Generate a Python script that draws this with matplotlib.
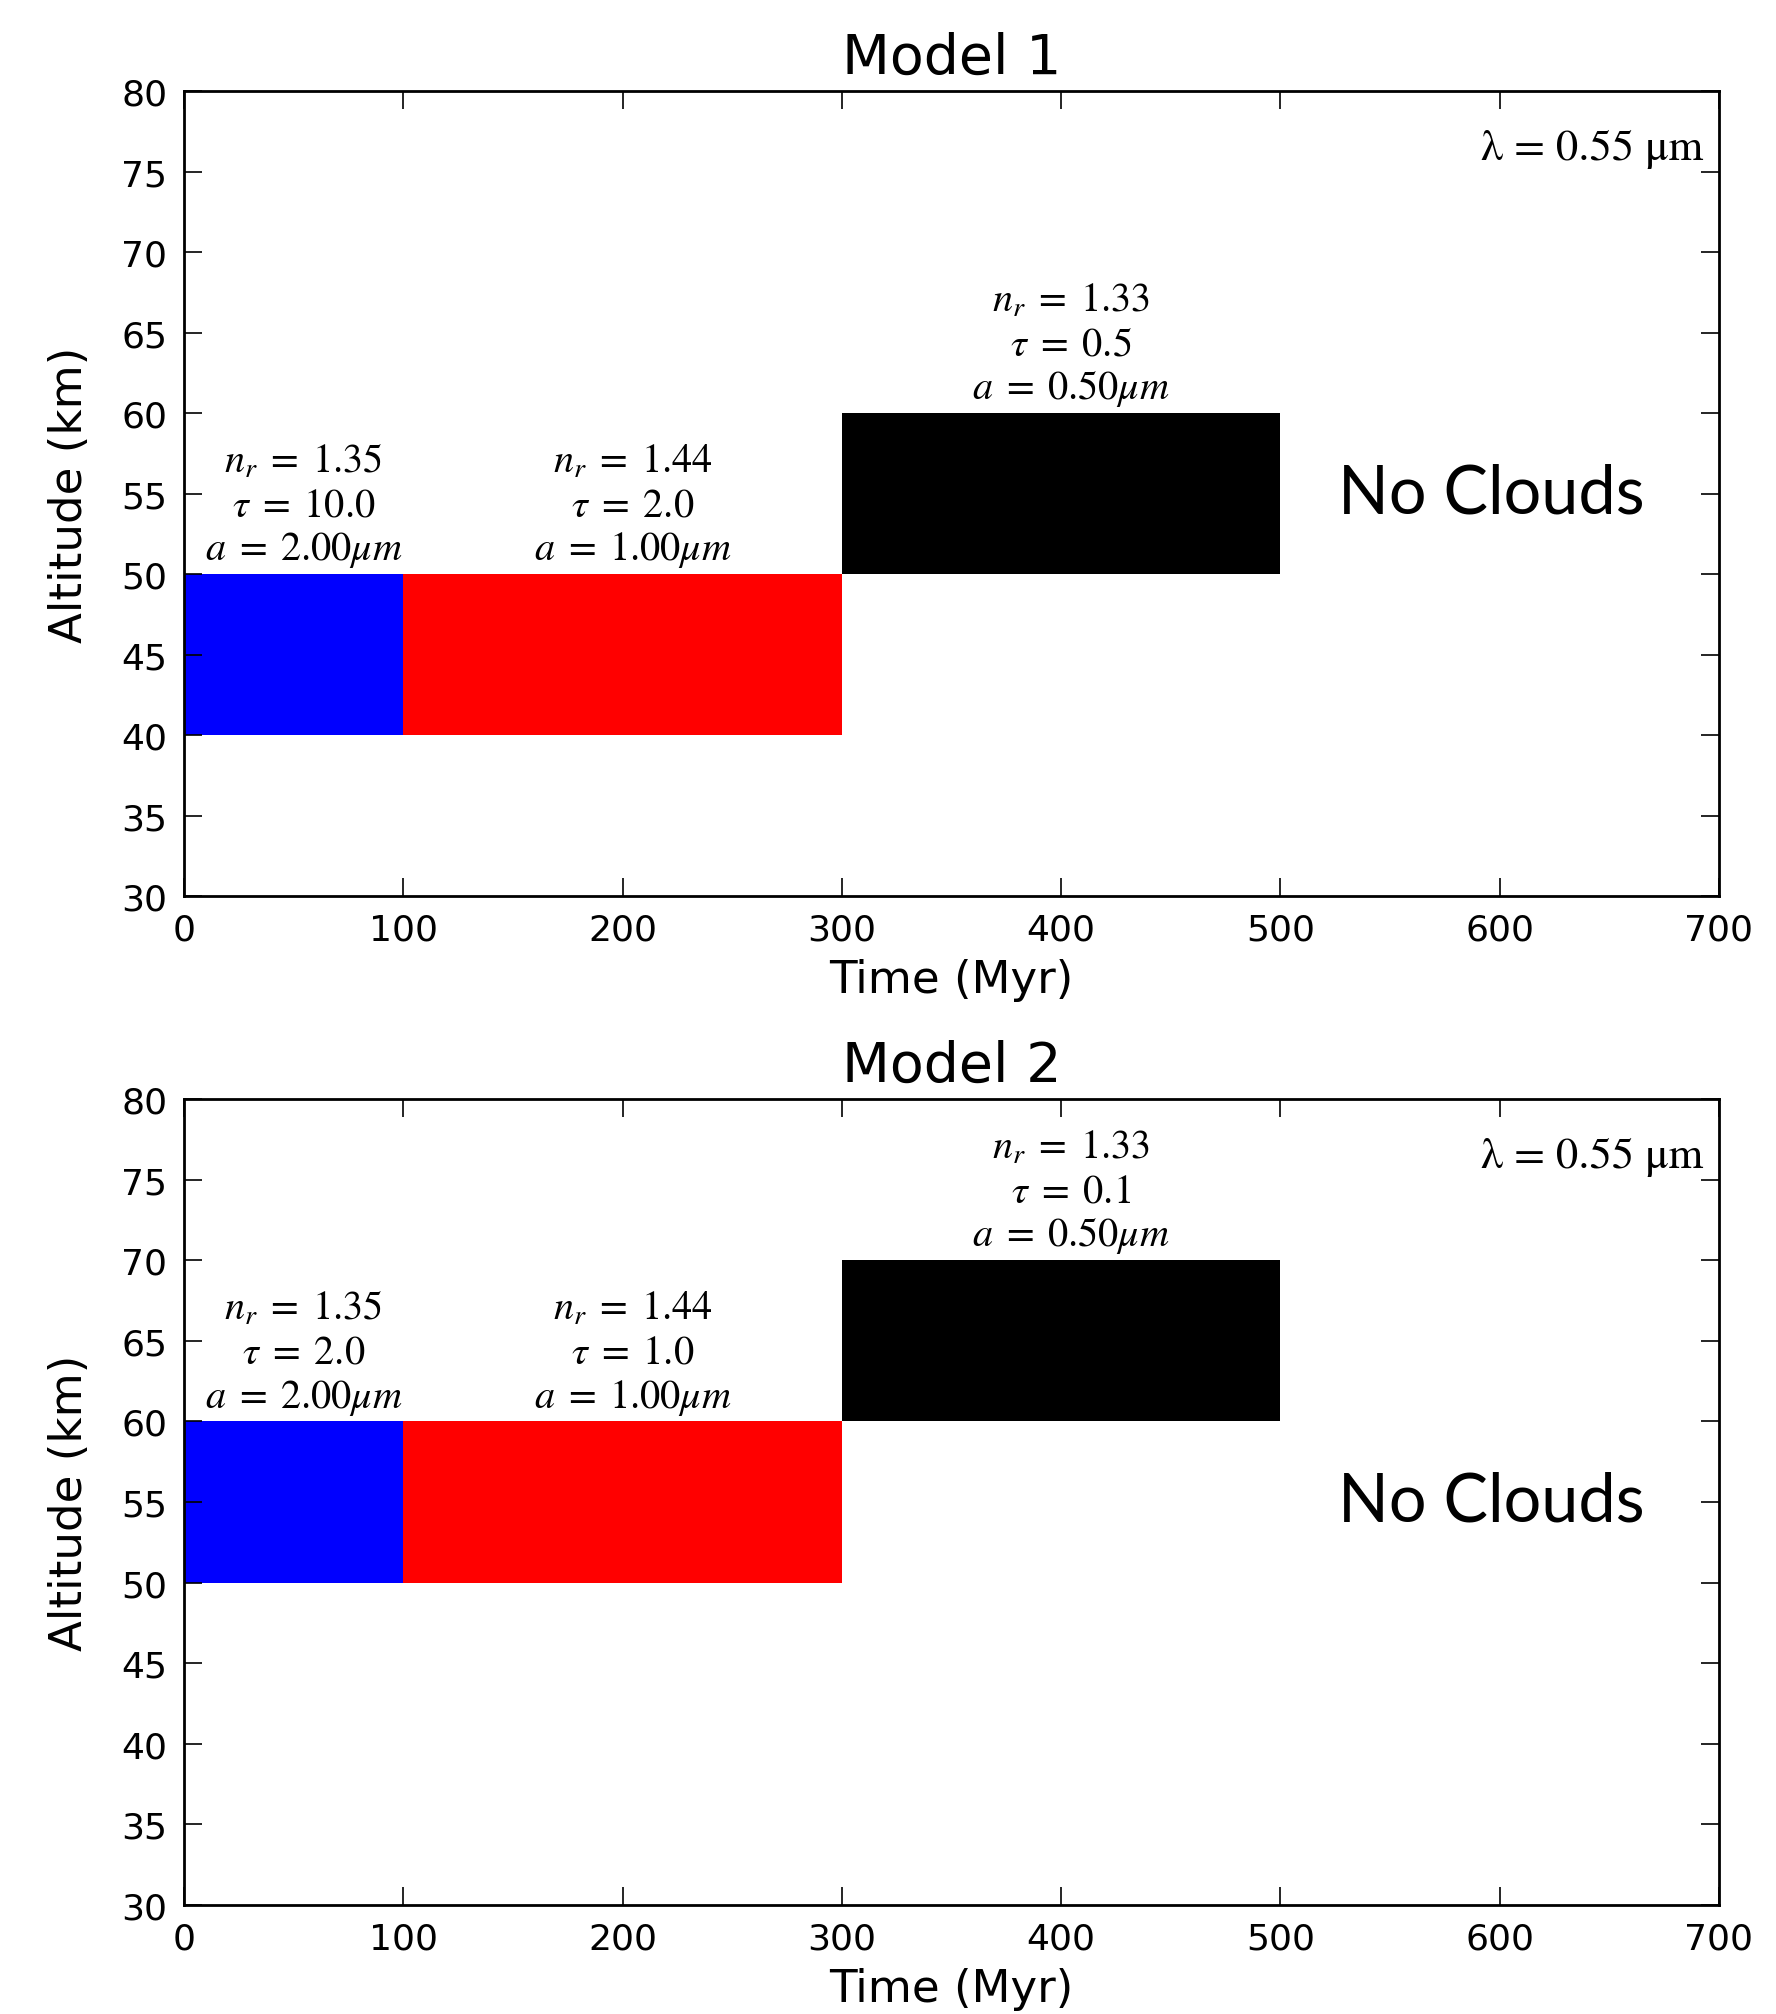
import matplotlib
matplotlib.use("Agg")
import matplotlib.pyplot as plt

# ---- data ----
titles = ["Model 1", "Model 2"]
box_left = [0, 100, 300]
box_width = [100, 200, 200]
box_colors = ["#0000ff", "#ff0000", "#000000"]
m1_bottom = [40, 40, 50]
m1_top = [50, 50, 60]
m2_bottom = [50, 50, 60]
m2_top = [60, 60, 70]
n_r = ["1.35", "1.44", "1.33"]
m1_tau = ["10.0", "2.0", "0.5"]
m2_tau = ["2.0", "1.0", "0.1"]
radius = ["2.00", "1.00", "0.50"]
xticks = [0, 100, 200, 300, 400, 500, 600, 700]
yticks = [30, 35, 40, 45, 50, 55, 60, 65, 70, 75, 80]
no_cloud_pos = (596, 55)
wavelength_label = "λ = 0.55 μm"

plt.rcParams["mathtext.fontset"] = "stix"
plt.rcParams["font.family"] = "DejaVu Sans"

fig = plt.figure(figsize=(17.76, 20.15), dpi=100)
ax1 = fig.add_axes([0.1036, 0.5548, 0.8643, 0.3995])
ax2 = fig.add_axes([0.1036, 0.0541, 0.8643, 0.4000])

models = [
    (ax1, titles[0], m1_bottom, m1_top, m1_tau),
    (ax2, titles[1], m2_bottom, m2_top, m2_tau),
]

for ax, title, bottoms, tops, taus in models:
    heights = [t - b for t, b in zip(tops, bottoms)]
    ax.bar(box_left, heights, width=box_width, bottom=bottoms, align="edge",
           color=box_colors, linewidth=0)
    for i in range(3):
        cx = box_left[i] + box_width[i] / 2 + 4.5
        txt = (f"$n_r\\;=\\;{n_r[i]}$\n$\\tau\\;=\\;{taus[i]}$\n"
               f"$a\\;=\\;{radius[i]}\\mu m$")
        ax.text(cx, tops[i] + 0.3, txt, ha="center", va="bottom",
                fontsize=29, linespacing=1.13)
    ax.text(no_cloud_pos[0], no_cloud_pos[1], "No Clouds", ha="center",
            va="center", fontsize=48, family="Lato")
    ax.text(0.9896, 0.9155, wavelength_label, transform=ax.transAxes,
            ha="right", va="baseline", fontsize=32, family="STIXGeneral")
    ax.set_xlim(0, 700)
    ax.set_ylim(30, 80)
    ax.set_xticks(xticks)
    ax.set_yticks(yticks)
    ax.tick_params(direction="in", length=13, width=1.2, labelsize=26,
                   pad=12, top=True, right=True)
    for sp in ax.spines.values():
        sp.set_linewidth(2.0)
    ax.set_xlabel("Time (Myr)", fontsize=32.5, labelpad=8)
    ax.set_ylabel("Altitude (km)", fontsize=32.5, labelpad=22)
    ax.set_title(title, fontsize=40, pad=13)

fig.savefig("out.png", dpi=100)
